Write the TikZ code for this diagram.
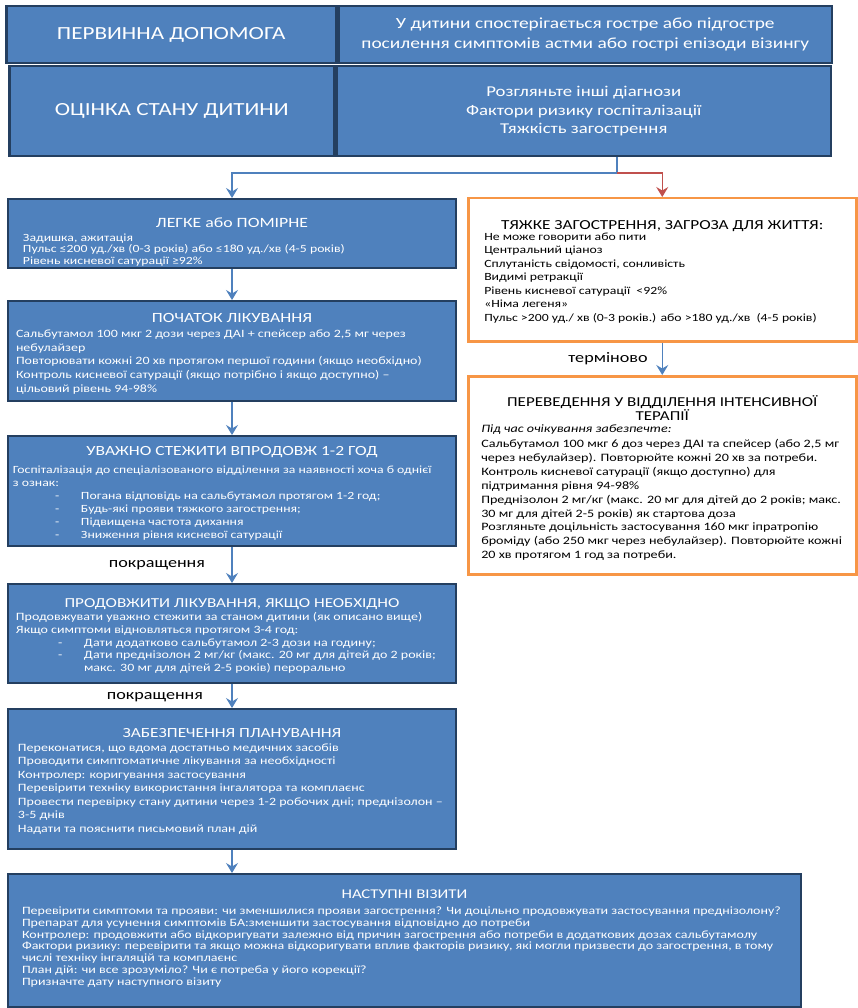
\documentclass[tikz,border=0pt]{standalone}
\usepackage{fontspec}
\setmainfont[FakeStretch=1.25]{Carlito}
\usetikzlibrary{arrows.meta}

\definecolor{boxblue}{RGB}{79,129,189}
\definecolor{boxedge}{RGB}{36,63,96}
\definecolor{boxorange}{RGB}{247,150,70}
\definecolor{linkred}{RGB}{192,80,77}

\lineskiplimit=-20pt
% title line of a box: strut height = distance from box top to baseline
\newcommand{\titleline}[3]{\rule{0pt}{#1pt}\makebox[\linewidth]{\fontsize{#2}{14}\selectfont #3}}
\newcommand{\dashitem}[1]{\hspace*{42pt}\makebox[26pt][l]{-}#1}

\begin{document}
\begin{tikzpicture}[x=1pt,y=-1pt]
\tikzset{
  head/.style={draw=boxedge,line width=2.5pt,fill=boxblue,text=white,anchor=north west,inner sep=0pt,align=center},
  bluebox/.style={draw=boxedge,line width=2pt,fill=boxblue,text=white,anchor=north west,inner ysep=0pt},
  orangebox/.style={draw=boxorange,line width=2.5pt,fill=white,anchor=north west,inner ysep=0pt},
  link/.style={color=boxblue,line width=1.3pt,-{Stealth[length=10pt,width=12pt,inset=3.5pt]}},
  note/.style={font=\fontsize{14.5}{16}\selectfont}
}
\useasboundingbox (0,0) rectangle (857,1008);

% header rows
\node[head,minimum width=330pt,minimum height=57pt,font=\fontsize{18.5}{21}\selectfont] (pervynna) at (5,5) {ПЕРВИННА ДОПОМОГА};
\node[head,minimum width=493pt,minimum height=57pt,font=\fontsize{15.5}{20}\selectfont] (symptomy) at (pervynna.north east) {У дитини спостерігається гостре або підгостре\\посилення симптомів астми або гострі епізоди візингу};
\node[head,minimum width=325pt,minimum height=90pt,font=\fontsize{18.5}{21}\selectfont] (otsinka) at (8,65) {ОЦІНКА СТАНУ ДИТИНИ};
\node[head,minimum width=494pt,minimum height=90pt,font=\fontsize{15}{18.5}\selectfont] (kryterii) at (otsinka.north east) {Розгляньте інші діагнози\\Фактори ризику госпіталізації\\Тяжкість загострення};

% left column
\node[bluebox,inner xsep=15pt] (legke) at (7,198) {\parbox[c][69pt][t]{418pt}{\raggedright\fontsize{11}{11.7}\selectfont
  \titleline{29}{14.2}{ЛЕГКЕ або ПОМІРНЕ}\\[1.5pt]
  Задишка, ажитація\\
  Пульс ≤200 уд./хв (0-3 років) або ≤180 уд./хв (4-5 років)\\
  Рівень кисневої сатурації ≥92\%}};

\node[bluebox,inner xsep=8pt] (pochatok) at (7,300) {\parbox[c][100pt][t]{432pt}{\raggedright\fontsize{11.2}{13.75}\selectfont
  \titleline{21}{14.1}{ПОЧАТОК ЛІКУВАННЯ}\\[1.6pt]
  Сальбутамол 100 мкг 2 дози через ДАІ + спейсер або 2,5 мг через\\
  небулайзер\\
  Повторювати кожні 20 хв протягом першої години (якщо необхідно)\\
  Контроль кисневої сатурації (якщо потрібно і якщо доступно) –\\
  цільовий рівень 94-98\%}};

\node[bluebox,inner xsep=5pt] (uvazhno) at (7,435) {\parbox[c][110pt][t]{438pt}{\raggedright\fontsize{11}{13}\selectfont
  \titleline{19}{14}{УВАЖНО СТЕЖИТИ ВПРОДОВЖ 1-2 ГОД}\\[5.3pt]
  Госпіталізація до спеціалізованого відділення за наявності хоча б однієї\\
  з ознак:\\
  \dashitem{Погана відповідь на сальбутамол протягом 1-2 год;}\\
  \dashitem{Будь-які прояви тяжкого загострення;}\\
  \dashitem{Підвищена частота дихання}\\
  \dashitem{Зниження рівня кисневої сатурації}}};

\node[bluebox,inner xsep=8pt] (prodovzh) at (7,583) {\parbox[c][99pt][t]{432pt}{\raggedright\fontsize{11.2}{12.75}\selectfont
  \titleline{23}{13.7}{ПРОДОВЖИТИ ЛІКУВАННЯ, ЯКЩО НЕОБХІДНО}\\[0.8pt]
  Продовжувати уважно стежити за станом дитини (як описано вище)\\
  Якщо симптоми відновляться протягом 3-4 год:\\
  \dashitem{Дати додатково сальбутамол 2-3 дози на годину;}\\
  \dashitem{Дати преднізолон 2 мг/кг (макс. 20 мг для дітей до 2 років;}\\
  \hspace*{68pt}макс. 30 мг для дітей 2-5 років) перорально}};

\node[bluebox,inner xsep=10pt] (zabezp) at (7,708) {\parbox[c][140pt][t]{428pt}{\raggedright\fontsize{11.2}{13.5}\selectfont
  \titleline{28}{13.9}{ЗАБЕЗПЕЧЕННЯ ПЛАНУВАННЯ}\\[0.8pt]
  Переконатися, що вдома достатньо медичних засобів\\
  Проводити симптоматичне лікування за необхідності\\
  Контролер: коригування застосування\\
  Перевірити техніку використання інгалятора та комплаєнс\\
  \makebox[\linewidth][l]{Провести перевірку стану дитини через 1-2 робочих дні; преднізолон –}\\
  3-5 днів\\
  Надати та пояснити письмовий план дій}};

\node[bluebox,inner xsep=14pt] (nastupni) at (7,873) {\parbox[c][133pt][t]{765pt}{\raggedright\fontsize{11.2}{11.8}\selectfont
  \titleline{24}{13.4}{НАСТУПНІ ВІЗИТИ}\\[4.6pt]
  Перевірити симптоми та прояви: чи зменшилися прояви загострення? Чи доцільно продовжувати застосування преднізолону?\\
  Препарат для усунення симптомів БА:зменшити застосування відповідно до потреби\\
  Контролер: продовжити або відкоригувати залежно від причин загострення або потреби в додаткових дозах сальбутамолу\\
  Фактори ризику: перевірити та якщо можна відкоригувати вплив факторів ризику, які могли призвести до загострення, в тому\\
  числі техніку інгаляцій та комплаєнс\\
  План дій: чи все зрозуміло? Чи є потреба у його корекції?\\
  Призначте дату наступного візиту}};

% right column
\node[orangebox,inner xsep=16pt] (tyazhke) at (467,197) {\parbox[c][143pt][t]{356pt}{\raggedright\fontsize{11}{13.5}\selectfont
  \titleline{31}{13.8}{ТЯЖКЕ ЗАГОСТРЕННЯ, ЗАГРОЗА ДЛЯ ЖИТТЯ:}\\[-2.5pt]
  Не може говорити або пити\\
  Центральний ціаноз\\
  Сплутаність свідомості, сонливість\\
  Видимі ретракції\\
  Рівень кисневої сатурації \ <92\%\\
  «Німа легеня»\\
  Пульс >200 уд./ хв (0-3 років.) або >180 уд./хв \ (4-5 років)}};

\node[orangebox,inner xsep=13pt] (perevedennya) at (467,375) {\parbox[c][198pt][t]{362pt}{\raggedright\fontsize{11.3}{13.9}\selectfont
  \titleline{30.6}{13.6}{ПЕРЕВЕДЕННЯ У ВІДДІЛЕННЯ ІНТЕНСИВНОЇ}\\[0.1pt]
  \makebox[\linewidth]{\fontsize{13.6}{14}\selectfont ТЕРАПІЇ}\\[-2.2pt]
  \textit{Під час очікування забезпечте:}\\[1.1pt]
  Сальбутамол 100 мкг 6 доз через ДАІ та спейсер (або 2,5 мг\\
  через небулайзер). Повторюйте кожні 20 хв за потреби.\\
  Контроль кисневої сатурації (якщо доступно) для\\
  підтримання рівня 94-98\%\\
  Преднізолон 2 мг/кг (макс. 20 мг для дітей до 2 років; макс.\\
  30 мг для дітей 2-5 років) як стартова доза\\
  Розгляньте доцільність застосування 160 мкг іпратропію\\
  броміду (або 250 мкг через небулайзер). Повторюйте кожні\\
  20 хв протягом 1 год за потреби.}};

% labels
\node[note] (pokr1) at (157,565) {покращення};
\node[note] (pokr2) at (155,697) {покращення};
\node[note] (termin) at (608,359) {терміново};

% connectors
\coordinate (rozvylka) at (617,173);
\draw[link,-] (kryterii.south -| rozvylka) -- (rozvylka);
\draw[link] (rozvylka) -- (rozvylka -| legke.north) -- (legke.north);
\draw[link,color=linkred] (rozvylka) -- (rozvylka -| tyazhke.north) -- (tyazhke.north);
\draw[link] (legke) -- (pochatok);
\draw[link] (pochatok) -- (uvazhno);
\draw[link] (uvazhno) -- (prodovzh);
\draw[link] (prodovzh) -- (zabezp);
\draw[link] (zabezp.south) -- (zabezp.south |- nastupni.north);
\draw[link] (tyazhke) -- (perevedennya);
\end{tikzpicture}
\end{document}
